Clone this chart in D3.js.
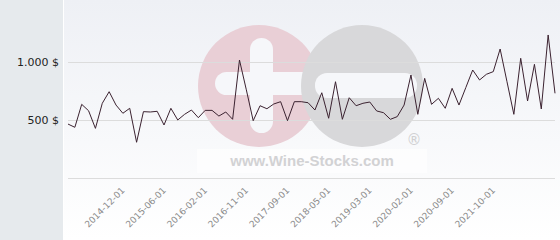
<!DOCTYPE html>
<html>
<head>
<meta charset="utf-8">
<script src="https://cdn.jsdelivr.net/npm/d3@7"></script>
<style>
  body { margin: 0; }
  svg { display: block; }
</style>
</head>
<body>
<div id="display"></div>
<script>
// price per point
var prices = [465, 437, 635, 580, 428, 644, 744, 629, 558, 601,
              308, 572, 569, 575, 457, 601, 500, 549, 586, 520,
              583, 583, 534, 569, 506, 1017, 760, 494, 623, 597,
              638, 658, 494, 658, 658, 649, 586, 735, 515, 830,
              506, 692, 623, 644, 655, 578, 563, 506, 529, 629,
              888, 549, 859, 635, 687, 601, 773, 629, 780, 931,
              845, 894, 917, 1112, 830, 549, 1032, 664, 980, 595,
              1233, 730];

// x labels and the point they sit on
var tickLabels = ["2014-12-01", "2015-06-01", "2016-02-01", "2016-11-01", "2017-09-01",
                  "2018-05-01", "2019-03-01", "2020-02-01", "2020-09-01", "2021-10-01"];
var tickIndex = [8, 14, 20, 26, 32, 38, 44, 50, 56, 62];

var yTicks = [0, 500, 1000];

var width = 560, height = 240;
var plot = {left: 68, right: 555, top: 62, bottom: 178};

var svg = d3.select("#display").append("svg")
    .attr("width", width)
    .attr("height", height);

// background
var grad = svg.append("defs").append("linearGradient")
    .attr("id", "bg").attr("x1", 0).attr("y1", 0).attr("x2", 0).attr("y2", 1);
grad.append("stop").attr("offset", "0%").attr("stop-color", "#eef0f5");
grad.append("stop").attr("offset", "100%").attr("stop-color", "#ffffff");

svg.append("rect").attr("width", width).attr("height", height).attr("fill", "#ffffff");
svg.append("rect").attr("x", 0).attr("y", 0).attr("width", 63).attr("height", height).attr("fill", "#e6eaed");
svg.append("rect").attr("x", 64).attr("y", 0).attr("width", width - 64).attr("height", height).attr("fill", "url(#bg)");

// watermark
var wm = svg.append("g");
wm.append("circle").attr("cx", 259).attr("cy", 86).attr("r", 61).attr("fill", "#e9cfd6");
wm.append("rect").attr("x", 250).attr("y", 38).attr("width", 23).attr("height", 95).attr("rx", 11.5).attr("fill", "#f6f7fa");
wm.append("rect").attr("x", 215).attr("y", 72).attr("width", 105).attr("height", 23).attr("rx", 11.5).attr("fill", "#f6f7fa");
wm.append("circle").attr("cx", 362).attr("cy", 86).attr("r", 61).attr("fill", "#d8d8da");
wm.append("rect").attr("x", 315).attr("y", 73).attr("width", 102).attr("height", 25).attr("rx", 12).attr("fill", "#f6f7fa");
wm.append("rect").attr("x", 197).attr("y", 149).attr("width", 230).attr("height", 24).attr("fill", "#ffffff").attr("opacity", 0.6);
wm.append("text").attr("x", 312).attr("y", 166)
    .attr("text-anchor", "middle")
    .attr("font-family", "Liberation Sans, Arial, sans-serif")
    .attr("font-weight", "bold")
    .attr("font-size", 15)
    .attr("fill", "#d2d2d4")
    .text("www.Wine-Stocks.com");
wm.append("text").attr("x", 414).attr("y", 145)
    .attr("text-anchor", "middle")
    .attr("font-family", "DejaVu Sans, sans-serif")
    .attr("font-size", 15)
    .attr("fill", "#d0d0d2")
    .text("®");

// scales
var x = d3.scalePoint()
    .domain(d3.range(prices.length))
    .range([plot.left, plot.right]);

var y = d3.scaleLinear()
    .domain([0, 1000])
    .range([plot.bottom, plot.top]);

// grid
svg.append("g")
  .selectAll("line")
  .data(yTicks)
  .enter()
  .append("line")
    .attr("x1", plot.left)
    .attr("x2", plot.right)
    .attr("y1", function(d){ return Math.round(y(d)) + 0.5 })
    .attr("y2", function(d){ return Math.round(y(d)) + 0.5 })
    .attr("stroke", "#dcdcdc")
    .attr("stroke-width", 1);

// y labels (no label for 0)
svg.append("g")
  .selectAll("text")
  .data(yTicks.filter(function(d){ return d > 0 }))
  .enter()
  .append("text")
    .attr("x", 59)
    .attr("y", function(d){ return y(d) + 4 })
    .attr("text-anchor", "end")
    .attr("font-family", "DejaVu Sans, sans-serif")
    .attr("font-size", 11)
    .attr("fill", "#222")
    .text(function(d){ return d3.format(",")(d).replace(",", ".") + " $" });

// x labels
svg.append("g")
  .selectAll("text")
  .data(tickIndex)
  .enter()
  .append("text")
    .attr("transform", function(d){ return "translate(" + (x(d) + 2.5) + ",191) rotate(-45)" })
    .attr("text-anchor", "end")
    .attr("font-family", "DejaVu Sans, sans-serif")
    .attr("font-size", 9)
    .attr("fill", "#8a8a8a")
    .text(function(d, i){ return tickLabels[i] });

// price line
var line = d3.line()
    .x(function(d, i){ return x(i) })
    .y(function(d){ return y(d) });

svg.append("path")
    .datum(prices)
    .attr("d", line)
    .attr("fill", "none")
    .attr("stroke", "#3b2230")
    .attr("stroke-width", 1)
    .attr("stroke-linejoin", "round");
</script>
</body>
</html>
